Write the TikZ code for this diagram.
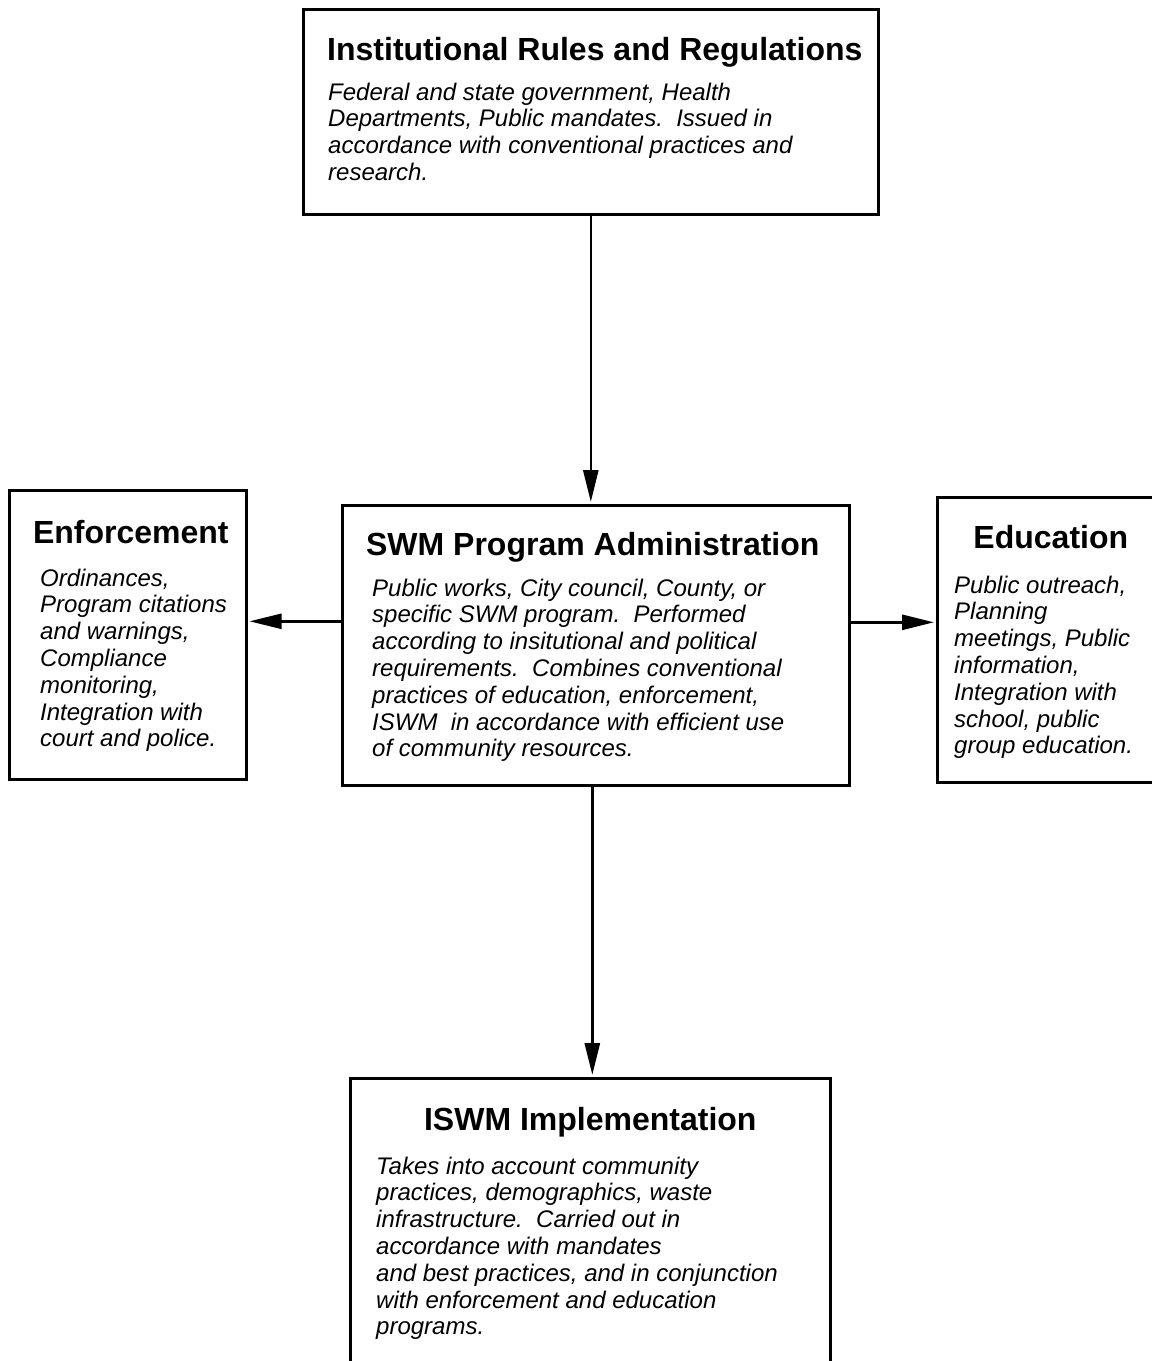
\documentclass[tikz,border=0pt]{standalone}
\usepackage{fontspec}
\setmainfont{Liberation Sans}
\usetikzlibrary{arrows.meta}

\begin{document}
\begin{tikzpicture}[x=1pt, y=-1pt,
    box/.style={draw=black, line width=2.6pt, inner sep=0pt, anchor=north west},
    head/.style={font=\fontsize{32}{38}\selectfont\bfseries, inner sep=0pt, anchor=base},
    note/.style={font=\fontsize{24}{26.8}\selectfont\itshape, align=left, inner sep=0pt, anchor=north west},
    feed/.style={line width=2.6pt, shorten >=2pt, -{Triangle[length=32pt,width=15pt]}}]
    \useasboundingbox (0,0) rectangle (1152,1361);
    \clip (0,0) rectangle (1152,1361);

    % boxes
    \node[box, minimum width=575pt, minimum height=205pt] (inst) at (302,8) {};
    \node[box, minimum width=237pt, minimum height=289pt] (enf)  at (8,489) {};
    \node[box, minimum width=507pt, minimum height=280pt] (swm)  at (341,504) {};
    \node[box, minimum width=227pt, minimum height=285pt] (edu)  at (936,496) {};
    \node[box, minimum width=480pt, minimum height=323pt] (iswm) at (349,1077) {};

    % titles
    \node[head] (insthead) at ([xshift=4pt,yshift=-52pt]inst.north) {Institutional Rules and Regulations};
    \node[head] (enfhead)  at ([xshift=3pt,yshift=-54pt]enf.north) {Enforcement};
    \node[head] (swmhead)  at ([xshift=-3pt,yshift=-51pt]swm.north) {SWM Program Administration};
    \node[head] (eduhead)  at ([yshift=-52pt]edu.north) {Education};
    \node[head] (iswmhead) at ([yshift=-53pt]iswm.north) {ISWM Implementation};

    % texts
    \node[note] (insttext) at ([xshift=26pt,yshift=-74.5pt]inst.north west)
        {Federal and state government, Health\\ Departments, Public mandates.\ \ Issued in\\ accordance with conventional practices and\\ research.};
    \node[note] (enftext) at ([xshift=32pt,yshift=-79.5pt]enf.north west)
        {Ordinances,\\ Program citations\\ and warnings,\\ Compliance\\ monitoring,\\ Integration with\\ court and police.};
    \node[note] (swmtext) at ([xshift=31pt,yshift=-74.5pt]swm.north west)
        {Public works, City council, County, or\\ specific SWM program.\ \ Performed\\ according to insitutional and political\\ requirements.\ \ Combines conventional\\ practices of education, enforcement,\\ ISWM\ \ in accordance with efficient use\\ of community resources.};
    \node[note] (edutext) at ([xshift=18pt,yshift=-79.5pt]edu.north west)
        {Public outreach,\\ Planning\\ meetings, Public\\ information,\\ Integration with\\ school, public\\ group education.};
    \node[note] (iswmtext) at ([xshift=27pt,yshift=-79.5pt]iswm.north west)
        {Takes into account community\\ practices, demographics, waste\\ infrastructure.\ \ Carried out in\\ accordance with mandates\\ and best practices, and in conjunction\\ with enforcement and education\\ programs.};

    % arrows
    \draw[feed] (inst.south) -- (inst.south |- swm.north);
    \draw[feed] ([yshift=24pt]swm.west) -- ([yshift=24pt]swm.west -| enf.east);
    \draw[feed] ([yshift=23pt]swm.east) -- ([yshift=23pt]swm.east -| edu.west);
    \draw[feed] ([xshift=2pt]iswm.north |- swm.south) -- ([xshift=2pt]iswm.north);
\end{tikzpicture}
\end{document}
